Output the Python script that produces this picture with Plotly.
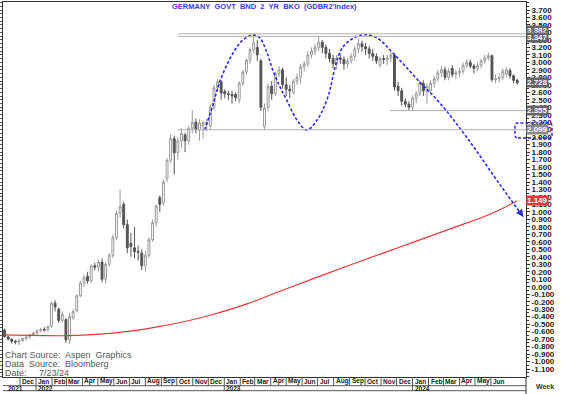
import plotly.graph_objects as go
import pandas as pd

# ---------------- data ----------------
week_start = "2021-11-01"
opens = [-0.58,-0.67,-0.70,-0.73,-0.74,-0.72,-0.69,-0.67,-0.64,-0.62,-0.59,-0.57,-0.58,-0.53,-0.22,-0.30,-0.45,-0.44,-0.71,-0.42,
         -0.32,-0.12,0.05,0.14,0.08,0.28,0.26,0.33,0.10,0.30,0.42,0.66,0.98,1.10,0.83,0.58,0.52,0.47,0.45,0.28,
         0.42,0.63,0.86,1.19,1.12,1.45,1.69,1.98,1.79,1.95,2.03,1.95,2.12,2.20,2.10,2.15,2.17,2.15,2.40,2.66,
         2.74,2.61,2.58,2.57,2.57,2.50,2.72,2.87,3.03,3.17,3.20,3.02,2.14,2.40,2.68,2.58,2.85,2.90,2.70,2.64,
         2.60,2.75,2.80,2.94,2.98,3.10,3.15,3.20,3.27,3.20,3.12,3.05,2.98,3.06,3.04,2.98,3.02,3.08,3.18,3.25,
         3.21,3.18,3.12,3.08,2.96,3.05,3.04,3.06,3.10,2.68,2.62,2.48,2.44,2.40,2.52,2.58,2.72,2.60,2.62,2.72,
         2.78,2.86,2.90,2.80,2.92,2.84,2.86,2.88,2.96,3.00,2.95,2.92,2.96,3.02,3.06,3.09,2.77,2.78,2.80,2.84,
         2.89,2.82,2.76]
highs = [-0.56,-0.66,-0.69,-0.71,-0.70,-0.68,-0.66,-0.63,-0.60,-0.57,-0.55,-0.54,-0.52,-0.20,-0.18,-0.28,-0.33,-0.42,-0.35,-0.30,
         -0.10,0.08,0.16,0.20,0.30,0.32,0.36,0.38,0.33,0.45,0.70,1.02,1.30,1.14,0.90,0.72,0.80,0.55,0.50,0.48,
         0.66,0.90,1.10,1.22,1.43,1.72,2.05,2.02,2.00,2.12,2.06,2.15,2.36,2.25,2.24,2.22,2.25,2.45,2.70,2.78,
         2.76,2.64,2.62,2.62,2.60,2.75,2.90,3.05,3.20,3.382,3.30,3.05,2.45,2.72,2.75,2.88,2.95,2.93,2.80,2.70,
         2.78,2.85,2.98,3.02,3.15,3.20,3.25,3.347,3.30,3.24,3.18,3.10,3.10,3.12,3.08,3.06,3.12,3.22,3.32,3.29,
         3.26,3.22,3.18,3.12,3.08,3.10,3.10,3.14,3.12,2.74,2.66,2.52,2.48,2.56,2.62,2.76,2.76,2.72,2.76,2.82,
         2.90,2.95,2.94,2.92,2.96,2.90,2.93,3.00,3.04,3.04,2.98,3.00,3.05,3.10,3.13,3.10,2.84,2.86,2.92,2.93,
         2.92,2.84,2.78]
lows = [-0.68,-0.72,-0.76,-0.77,-0.78,-0.74,-0.72,-0.70,-0.66,-0.64,-0.61,-0.60,-0.60,-0.55,-0.33,-0.48,-0.48,-0.75,-0.76,-0.44,
        -0.34,-0.14,0.00,0.04,0.05,0.22,0.20,0.06,0.04,0.27,0.38,0.62,0.92,0.78,0.45,0.40,0.38,0.35,0.22,0.20,
        0.38,0.60,0.80,1.00,1.08,1.40,1.65,1.50,1.70,1.85,1.80,1.90,2.05,2.05,1.95,1.98,2.08,2.10,2.36,2.60,
        2.50,2.52,2.50,2.45,2.48,2.45,2.68,2.83,2.98,3.12,3.02,2.35,2.099,2.35,2.50,2.55,2.80,2.65,2.55,2.52,
        2.57,2.70,2.72,2.88,2.94,3.05,3.10,3.15,3.12,3.05,3.00,2.92,2.90,2.98,2.90,2.92,2.98,3.02,3.12,3.14,
        3.10,3.05,3.02,2.98,2.93,2.98,2.96,3.00,2.62,2.55,2.42,2.40,2.355,2.36,2.45,2.55,2.55,2.45,2.58,2.66,
        2.74,2.80,2.76,2.76,2.80,2.78,2.80,2.84,2.92,2.92,2.85,2.88,2.92,2.98,3.02,2.74,2.72,2.73,2.76,2.80,
        2.78,2.72,2.70]
closes = [-0.67,-0.70,-0.73,-0.74,-0.72,-0.69,-0.67,-0.64,-0.62,-0.59,-0.57,-0.58,-0.53,-0.22,-0.27,-0.45,-0.37,-0.71,-0.40,-0.33,
          -0.12,0.05,0.12,0.08,0.28,0.26,0.33,0.10,0.30,0.42,0.66,0.98,1.07,0.83,0.52,0.54,0.47,0.46,0.28,0.42,
          0.63,0.86,1.08,1.10,1.40,1.69,1.98,1.79,1.95,2.05,1.95,2.12,2.20,2.10,2.19,2.19,2.20,2.40,2.66,2.74,
          2.59,2.58,2.57,2.55,2.53,2.72,2.87,3.03,3.17,3.26,3.10,2.40,2.39,2.68,2.58,2.85,2.90,2.70,2.64,2.62,
          2.75,2.80,2.94,2.98,3.10,3.15,3.20,3.27,3.20,3.12,3.05,2.98,3.06,3.04,2.98,3.02,3.08,3.18,3.25,3.21,
          3.18,3.12,3.08,3.02,3.05,3.04,3.06,3.10,2.67,2.62,2.48,2.44,2.40,2.52,2.58,2.72,2.62,2.68,2.72,2.78,
          2.86,2.90,2.80,2.88,2.84,2.86,2.88,2.96,3.00,2.95,2.92,2.96,3.02,3.06,3.09,2.77,2.78,2.80,2.88,2.90,
          2.82,2.76,2.728]

# long moving average (red)
ma_dates = ["2021-11-01","2022-03-02","2022-04-10","2022-07-08","2022-08-29","2022-10-21","2022-12-10",
            "2023-02-14","2023-04-19","2023-09-02","2023-12-08","2024-03-14","2024-05-31","2024-07-22"]
ma_vals = [-0.645,-0.655,-0.645,-0.591,-0.531,-0.458,-0.371,-0.230,-0.060,0.291,0.532,0.773,0.973,1.149]

# hand-drawn double-top curve (blue dashed)
curve_dates = ["2022-11-24","2022-12-10","2022-12-23","2023-01-18","2023-02-06","2023-02-26","2023-03-11",
               "2023-03-25","2023-04-05","2023-04-19","2023-05-02","2023-05-22","2023-06-10","2023-06-30",
               "2023-07-19","2023-08-19","2023-09-25","2023-10-24","2023-11-24","2024-01-15","2024-02-23",
               "2024-04-16","2024-06-19","2024-08-03"]
curve_vals = [2.096,2.430,2.737,3.125,3.299,3.366,3.326,3.125,2.898,2.671,2.497,2.229,2.096,2.229,
              2.497,3.205,3.366,3.326,3.125,2.737,2.457,1.989,1.36,0.933]

# horizontal levels
level_top1 = 3.382
level_top2 = 3.347
level_support = 2.099
level_dec = 2.355
last_close = 2.728
ma_last = 1.149
levels_start = "2022-10-03"
dec_level_start = "2023-11-18"

tick_vals = [round(-1.1 + 0.1 * k, 1) for k in range(49)]
tick_text = [f"{v:.3f}" for v in tick_vals]

month_starts = pd.date_range("2021-12-01", "2024-06-01", freq="MS")
month_labels = [d.strftime("%b") for d in month_starts]
year_starts = ["2022-01-01", "2023-01-01", "2024-01-01"]
year_labels = ["2022", "2023", "2024"]

x_range = ["2021-10-29", "2024-08-08"]
y_range = [-1.207, 3.807]

dates = pd.date_range(week_start, periods=len(opens), freq="7D")

# ---------------- figure ----------------
BLUE = "#2b2be0"
fig = go.Figure()
fig.add_trace(go.Candlestick(
    x=dates, open=opens, high=highs, low=lows, close=closes,
    increasing=dict(line=dict(color="#9a9a9a", width=1), fillcolor="white"),
    decreasing=dict(line=dict(color="#555555", width=1), fillcolor="#555555"),
    whiskerwidth=0, showlegend=False, hoverinfo="skip"))
fig.add_trace(go.Scatter(x=ma_dates, y=ma_vals, mode="lines",
                         line=dict(color="#e53935", width=1.2, shape="spline", smoothing=1.0),
                         showlegend=False, hoverinfo="skip"))
fig.add_trace(go.Scatter(x=curve_dates, y=curve_vals, mode="lines",
                         line=dict(color=BLUE, width=1.6, shape="spline", smoothing=1.0, dash="3px,2px"),
                         showlegend=False, hoverinfo="skip"))
fig.add_trace(go.Scatter(x=[dates[0]], y=[0], yaxis="y2", mode="markers",
                         marker=dict(opacity=0), showlegend=False, hoverinfo="skip"))

shapes = []
for lv in (level_top1, level_top2, level_support):
    shapes.append(dict(type="line", xref="x", yref="y", x0=levels_start, x1=x_range[1], y0=lv, y1=lv,
                       line=dict(color="#b0b0b0", width=1)))
shapes.append(dict(type="line", xref="x", yref="y", x0=dec_level_start, x1=x_range[1], y0=level_dec, y1=level_dec,
                   line=dict(color="#b0b0b0", width=1)))

# bottom date strip
ROW1 = -8.7 / 375
ROW2 = -13.7 / 375
shapes.append(dict(type="line", xref="paper", yref="paper", x0=0, x1=1, y0=ROW1, y1=ROW1,
                   line=dict(color="#555", width=1)))
shapes.append(dict(type="line", xref="paper", yref="paper", x0=0, x1=1, y0=ROW2, y1=ROW2,
                   line=dict(color="#555", width=1)))
for d in month_starts:
    shapes.append(dict(type="line", xref="x", yref="paper", x0=d, x1=d, y0=0, y1=ROW1,
                       line=dict(color="#555", width=1)))
for d in year_starts:
    shapes.append(dict(type="line", xref="x", yref="paper", x0=d, x1=d, y0=ROW1, y1=ROW2,
                       line=dict(color="#555", width=1)))
shapes.append(dict(type="line", xref="paper", yref="paper", x0=1, x1=1, y0=0, y1=-17 / 375,
                   line=dict(color="#333", width=1)))

# dashed rounded box around support label
bx0, bx1 = (515 - 3) / 523, (552 - 3) / 523
by0, by1 = 1.99, 2.19
rx, ry = 3 / 523, 0.04
path = (f"M {bx0+rx},{by0} L {bx1-rx},{by0} Q {bx1},{by0} {bx1},{by0+ry} L {bx1},{by1-ry} "
        f"Q {bx1},{by1} {bx1-rx},{by1} L {bx0+rx},{by1} Q {bx0},{by1} {bx0},{by1-ry} "
        f"L {bx0},{by0+ry} Q {bx0},{by0} {bx0+rx},{by0} Z")
shapes.append(dict(type="path", xref="paper", yref="y", path=path,
                   line=dict(color=BLUE, width=1.5, dash="3px,2px")))

annotations = []
FONT = "Liberation Sans, Arial, sans-serif"
annotations.append(dict(xref="paper", yref="paper", x=0.5, y=(377 - 7) / 375, xanchor="center", yanchor="middle",
                        text="GERMANY\u00a0 GOVT\u00a0 BND\u00a0 2\u00a0 YR\u00a0 BKO\u00a0 (GDBR2'Index)",
                        showarrow=False, font=dict(family=FONT, size=7.5, color="#3b3bd6", weight="bold")))
for txt, ypx in (("Chart Source:\u00a0 Aspen\u00a0 Graphics", 355), ("Data\u00a0 Source:\u00a0 Bloomberg", 364),
                 ("Date:\u00a0\u00a0\u00a0\u00a0 7/23/24", 373)):
    annotations.append(dict(xref="paper", yref="paper", x=0, y=(377 - ypx) / 375, xanchor="left", yanchor="middle",
                            text=txt, showarrow=False, font=dict(family=FONT, size=9, color="#555555")))

def value_box(val, bg, yshift=0):
    return dict(xref="paper", yref="y", x=1, y=val, xanchor="left", yanchor="middle", yshift=yshift,
                text=f"{val:.3f}", showarrow=False, bgcolor=bg, borderpad=0,
                font=dict(family=FONT, size=8, color="white", weight="bold"))

annotations.append(value_box(level_top1, "#666666", 3))
annotations.append(value_box(level_top2, "#666666", -1))
annotations.append(value_box(last_close, "#666666"))
annotations.append(value_box(level_dec, "#666666"))
annotations.append(value_box(level_support, "#8a8a8a"))
annotations.append(value_box(ma_last, "#e8383d"))

annotations.append(dict(xref="x", yref="y", x=curve_dates[-1], y=curve_vals[-1], ax=-5, ay=-7,
                        showarrow=True, arrowhead=2, arrowsize=1, arrowwidth=1.5, arrowcolor=BLUE, text=""))

for d, lab in zip(month_starts, month_labels):
    annotations.append(dict(xref="x", yref="paper", x=d, y=ROW1 / 2, xanchor="left", yanchor="middle", xshift=0,
                            text=lab, showarrow=False, font=dict(family=FONT, size=6.5, color="#222", weight="bold")))
annotations.append(dict(xref="x", yref="paper", x="2021-11-23", y=(ROW1 + ROW2) / 2, xanchor="center",
                        yanchor="middle", text="2021", showarrow=False,
                        font=dict(family=FONT, size=6.5, color="#222", weight="bold")))
for d, lab in zip(year_starts, year_labels):
    annotations.append(dict(xref="x", yref="paper", x=d, y=(ROW1 + ROW2) / 2, xanchor="left", yanchor="middle",
                            text=lab, showarrow=False, font=dict(family=FONT, size=6.5, color="#222", weight="bold")))
annotations.append(dict(xref="paper", yref="paper", x=(545 - 3) / 523, y=(377 - 386) / 375, xanchor="center",
                        yanchor="middle", text="Week", showarrow=False,
                        font=dict(family=FONT, size=7, color="#333", weight="bold")))

fig.update_layout(
    width=563, height=394, autosize=False,
    margin=dict(l=3, r=37, t=2, b=17),
    paper_bgcolor="white", plot_bgcolor="white",
    showlegend=False, boxgap=0.25,
    xaxis=dict(type="date", range=x_range, showgrid=False, zeroline=False, showticklabels=False, ticks="",
               showline=True, linecolor="#333", linewidth=1, mirror=True, rangeslider=dict(visible=False),
               fixedrange=True),
    yaxis=dict(range=y_range, side="right", tickmode="array", tickvals=tick_vals, ticktext=tick_text,
               showgrid=False, zeroline=False, showline=True, linecolor="#333", linewidth=1,
               ticks="outside", ticklen=3, tickcolor="#333",
               tickfont=dict(family=FONT, size=8, color="#222", weight="bold"),
               minor=dict(tickmode="linear", tick0=-1.1, dtick=0.05, ticks="outside", ticklen=2, tickcolor="#333"),
               fixedrange=True),
    yaxis2=dict(range=y_range, overlaying="y", side="left", showgrid=False, zeroline=False,
                showticklabels=False, showline=True, linecolor="#333", ticks="outside", ticklen=2,
                tickmode="linear", tick0=-1.1, dtick=0.05, tickcolor="#555", fixedrange=True),
    shapes=shapes, annotations=annotations,
)

fig.write_html("out.html", config={"displayModeBar": False},
               post_script="document.body.style.margin='0';document.body.style.padding='0';")
